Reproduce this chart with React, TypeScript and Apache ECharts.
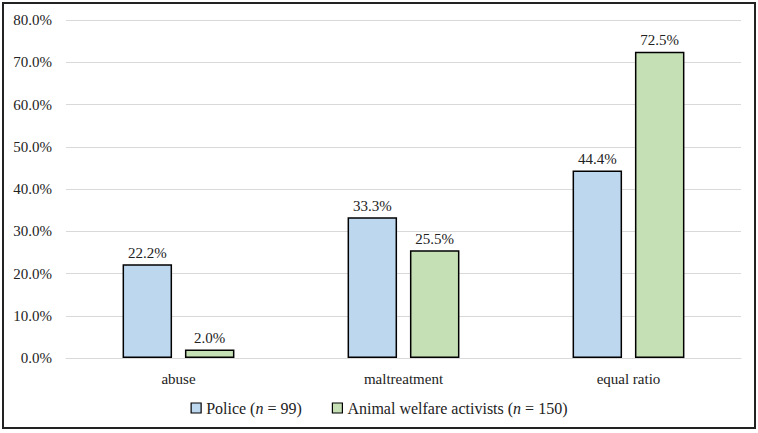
import React, { useEffect, useRef } from "react";
import * as echarts from "echarts";

const categories = ["abuse", "maltreatment", "equal ratio"];
const police = [22.2, 33.3, 44.4];
const activists = [2.0, 25.5, 72.5];
const seriesNames = ["Police", "Animal welfare activists"];
const sampleSizes = [99, 150];

const FONT = "'Liberation Serif', 'DejaVu Serif', serif";
const FS = 15;

export default function App() {
  const ref = useRef<HTMLDivElement>(null);
  useEffect(() => {
    if (!ref.current) return;
    const chart = echarts.init(ref.current, undefined, { renderer: "svg" });
    const labelStyle = {
      show: true,
      position: "top" as const,
      formatter: (p: any) => p.value.toFixed(1) + "%",
      fontFamily: FONT,
      fontSize: FS,
      color: "#222",
      distance: 4,
    };
    chart.setOption({
      animation: false,
      textStyle: { fontFamily: FONT },
      graphic: [
        {
          type: "rect",
          shape: { x: 3, y: 3, width: 752, height: 425 },
          style: { fill: "none", stroke: "#222", lineWidth: 2 },
          silent: true,
        },
      ],
      grid: { left: 66, right: 17, top: 20, bottom: 75 },
      legend: {
        bottom: 12,
        left: "center",
        itemWidth: 10,
        itemHeight: 10,
        itemGap: 30,
        icon: "rect",
        data: seriesNames.map((n) => ({
          name: n,
          itemStyle: { borderColor: "#000", borderWidth: 1.2 },
        })),
        formatter: (name: string) => {
          const i = seriesNames.indexOf(name);
          return `{a|${name} (}{i|n}{a| = ${sampleSizes[i]})}`;
        },
        textStyle: {
          fontFamily: FONT,
          rich: {
            a: { fontFamily: FONT, fontSize: 16, color: "#222" },
            i: { fontFamily: FONT, fontSize: 16, fontStyle: "italic", color: "#222" },
          },
        },
      },
      xAxis: {
        type: "category",
        data: categories,
        axisTick: { show: false },
        axisLine: { lineStyle: { color: "#d9d9d9" } },
        axisLabel: { fontFamily: FONT, fontSize: FS, color: "#222", margin: 13 },
      },
      yAxis: {
        type: "value",
        min: 0,
        max: 80,
        interval: 10,
        axisLabel: {
          fontFamily: FONT,
          fontSize: FS,
          color: "#222",
          formatter: (v: number) => v.toFixed(1) + "%",
          margin: 14,
        },
        splitLine: { lineStyle: { color: "#d9d9d9" } },
      },
      series: [
        {
          name: seriesNames[0],
          type: "bar",
          data: police,
          barWidth: "22%",
          barGap: "26%",
          itemStyle: { color: "#BDD7EE", borderColor: "#000", borderWidth: 1.5 },
          label: labelStyle,
        },
        {
          name: seriesNames[1],
          type: "bar",
          data: activists,
          barWidth: "22%",
          itemStyle: { color: "#C5E0B4", borderColor: "#000", borderWidth: 1.5 },
          label: labelStyle,
        },
      ],
    });
    return () => chart.dispose();
  }, []);
  return (
    <div
      ref={ref}
      style={{ position: "fixed", left: 0, top: 0, width: 758, height: 433, background: "#fff" }}
    />
  );
}
